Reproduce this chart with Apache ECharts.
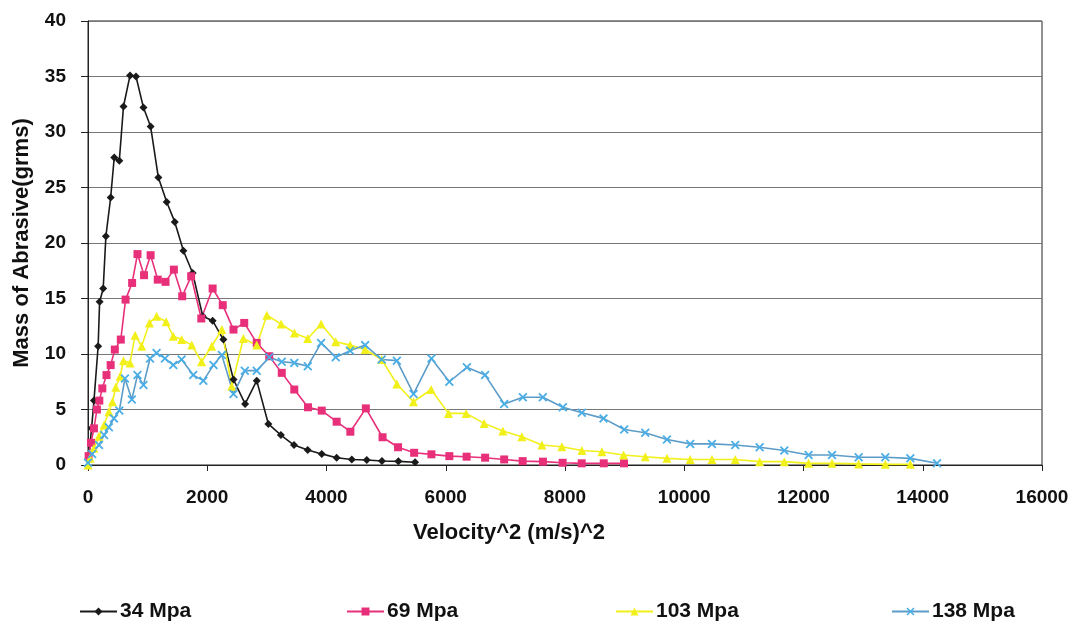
<!DOCTYPE html>
<html>
<head>
<meta charset="utf-8">
<script src="https://cdn.jsdelivr.net/npm/echarts@6/dist/echarts.min.js"></script>
<style>
html,body{margin:0;padding:0;background:#fff;}
#chart{width:1077px;height:625px;}
</style>
</head>
<body>
<div id="chart"></div>
<script>
// Data: [velocity^2, mass]
var seriesNames = ['34 Mpa', '69 Mpa', '103 Mpa', '138 Mpa'];
var xTicks = [0, 2000, 4000, 6000, 8000, 10000, 12000, 14000, 16000];
var yTicks = [0, 5, 10, 15, 20, 25, 30, 35, 40];

var s34 = [[10,0.5],[60,3.3],[100,5.8],[170,10.7],[195,14.7],[255,15.9],[300,20.6],[380,24.1],[440,27.7],[525,27.4],[595,32.3],[705,35.1],[805,35.0],[930,32.2],[1050,30.5],[1180,25.9],[1320,23.7],[1455,21.9],[1600,19.3],[1755,17.3],[1925,13.4],[2090,13.0],[2270,11.3],[2440,7.7],[2635,5.5],[2830,7.6],[3025,3.7],[3235,2.7],[3455,1.8],[3685,1.35],[3920,1.0],[4170,0.66],[4425,0.5],[4675,0.45],[4930,0.36],[5205,0.33],[5485,0.25]];

var s69 = [[10,0.8],[50,2.0],[100,3.3],[150,5.0],[190,5.8],[240,6.9],[310,8.1],[380,9.0],[450,10.4],[550,11.3],[630,14.9],[740,16.4],[830,19.0],[940,17.1],[1050,18.9],[1170,16.7],[1300,16.5],[1440,17.6],[1580,15.2],[1730,17.0],[1900,13.2],[2090,15.9],[2260,14.4],[2440,12.2],[2620,12.8],[2830,11.0],[3040,9.8],[3250,8.3],[3460,6.8],[3690,5.2],[3920,4.9],[4170,3.9],[4400,3.0],[4660,5.1],[4940,2.5],[5200,1.6],[5470,1.1],[5760,0.96],[6060,0.8],[6350,0.75],[6660,0.66],[6980,0.5],[7290,0.35],[7630,0.3],[7960,0.2],[8280,0.15],[8650,0.15],[8990,0.15]];

var s103 = [[0,0],[35,0.6],[100,1.5],[185,2.6],[270,3.6],[350,4.8],[410,5.7],[465,7.0],[540,8.0],[595,9.4],[705,9.2],[790,11.7],[900,10.7],[1030,12.8],[1150,13.4],[1310,12.9],[1430,11.6],[1570,11.3],[1740,10.8],[1905,9.3],[2075,10.7],[2245,12.2],[2410,7.1],[2605,11.4],[2830,10.8],[3000,13.5],[3238,12.7],[3462,11.9],[3686,11.4],[3910,12.7],[4155,11.1],[4396,10.8],[4648,10.4],[4926,9.5],[5180,7.3],[5458,5.7],[5755,6.8],[6046,4.65],[6342,4.65],[6644,3.75],[6958,3.06],[7276,2.55],[7612,1.8],[7948,1.65],[8283,1.3],[8618,1.2],[8982,0.9],[9346,0.75],[9710,0.6],[10100,0.5],[10464,0.5],[10855,0.5],[11264,0.3],[11678,0.3],[12086,0.15],[12478,0.15],[12925,0.1],[13372,0.06],[13792,0.06]];

var s138 = [[0,0.2],[70,1.0],[185,1.8],[270,2.7],[350,3.4],[435,4.2],[525,4.9],[620,7.8],[735,5.9],[830,8.1],[930,7.2],[1040,9.6],[1150,10.1],[1290,9.6],[1430,9.0],[1570,9.5],[1765,8.1],[1935,7.6],[2105,9.0],[2245,9.9],[2440,6.4],[2630,8.5],[2830,8.5],[3040,9.7],[3250,9.3],[3460,9.2],[3686,8.9],[3910,11.0],[4155,9.7],[4396,10.3],[4648,10.8],[4926,9.5],[5180,9.4],[5460,6.4],[5760,9.6],[6060,7.5],[6354,8.8],[6660,8.1],[6980,5.5],[7293,6.1],[7628,6.1],[7964,5.2],[8283,4.7],[8646,4.2],[8993,3.2],[9346,2.9],[9710,2.3],[10100,1.9],[10464,1.9],[10855,1.8],[11264,1.6],[11678,1.3],[12086,0.9],[12478,0.9],[12925,0.7],[13372,0.7],[13792,0.6],[14240,0.15]];

var FONT = 'Liberation Sans, Arial, sans-serif';
var xSym = 'path://M0,1.4L1.4,0L5,3.6L8.6,0L10,1.4L6.4,5L10,8.6L8.6,10L5,6.4L1.4,10L0,8.6L3.6,5Z';

var chart = echarts.init(document.getElementById('chart'), null, {renderer: 'canvas'});

function mk(name, data, color, lineColor, symbol, size) {
  return {
    name: name, type: 'line', data: data,
    symbol: symbol, symbolSize: size, showAllSymbol: true,
    lineStyle: {color: lineColor, width: 1.6},
    itemStyle: {color: color, borderWidth: 0},
    emphasis: {disabled: true},
    animation: false, z: 3
  };
}

function lg(name, left) {
  return {
    data: [name], left: left, top: 596, itemWidth: 37, itemHeight: 10, itemGap: 4,
    textStyle: {fontFamily: FONT, fontWeight: 'bold', fontSize: 21, color: '#111', padding: [0, 0, 0, -2]},
    selectedMode: false
  };
}

chart.setOption({
  backgroundColor: '#fff',
  animation: false,
  grid: {left: 88, right: 35, top: 21, bottom: 160, show: true, borderColor: '#222', borderWidth: 1, backgroundColor: 'transparent'},
  legend: [lg(seriesNames[0], 74), lg(seriesNames[1], 341), lg(seriesNames[2], 610), lg(seriesNames[3], 886)],
  xAxis: {
    type: 'value', min: xTicks[0], max: xTicks[xTicks.length-1], interval: 2000,
    name: 'Velocity^2 (m/s)^2', nameLocation: 'middle', nameGap: 57,
    nameTextStyle: {fontFamily: FONT, fontWeight: 'bold', fontSize: 22, color: '#111', padding: [0, 112, 0, 0]},
    axisLine: {lineStyle: {color: '#222', width: 1}},
    axisTick: {show: true, inside: false, length: 6, lineStyle: {color: '#222'}},
    axisLabel: {margin: 23, fontFamily: FONT, fontWeight: 'bold', fontSize: 19, color: '#111',
      formatter: function (v) { return String(v); }},
    splitLine: {show: false}
  },
  yAxis: {
    type: 'value', min: yTicks[0], max: yTicks[yTicks.length-1], interval: 5,
    name: 'Mass of Abrasive(grms)', nameLocation: 'middle', nameGap: 55, nameRotate: 90,
    nameTextStyle: {fontFamily: FONT, fontWeight: 'bold', fontSize: 22, color: '#111'},
    axisLine: {show: true, lineStyle: {color: '#222', width: 1}},
    axisTick: {show: true, inside: false, length: 7, lineStyle: {color: '#222'}},
    axisLabel: {margin: 22, fontFamily: FONT, fontWeight: 'bold', fontSize: 19, color: '#111',
      formatter: function (v) { return String(v); }},
    splitLine: {show: true, lineStyle: {color: '#777', width: 1}}
  },
  series: [
    mk(seriesNames[0], s34, '#1a1a1a', '#1a1a1a', 'diamond', 8),
    mk(seriesNames[1], s69, '#e8307a', '#e8307a', 'rect', 8),
    mk(seriesNames[2], s103, '#f2f01a', '#f2f01a', 'triangle', 9),
    mk(seriesNames[3], s138, '#4aaee6', '#5c9cc8', xSym, 9)
  ]
});
</script>
</body>
</html>
